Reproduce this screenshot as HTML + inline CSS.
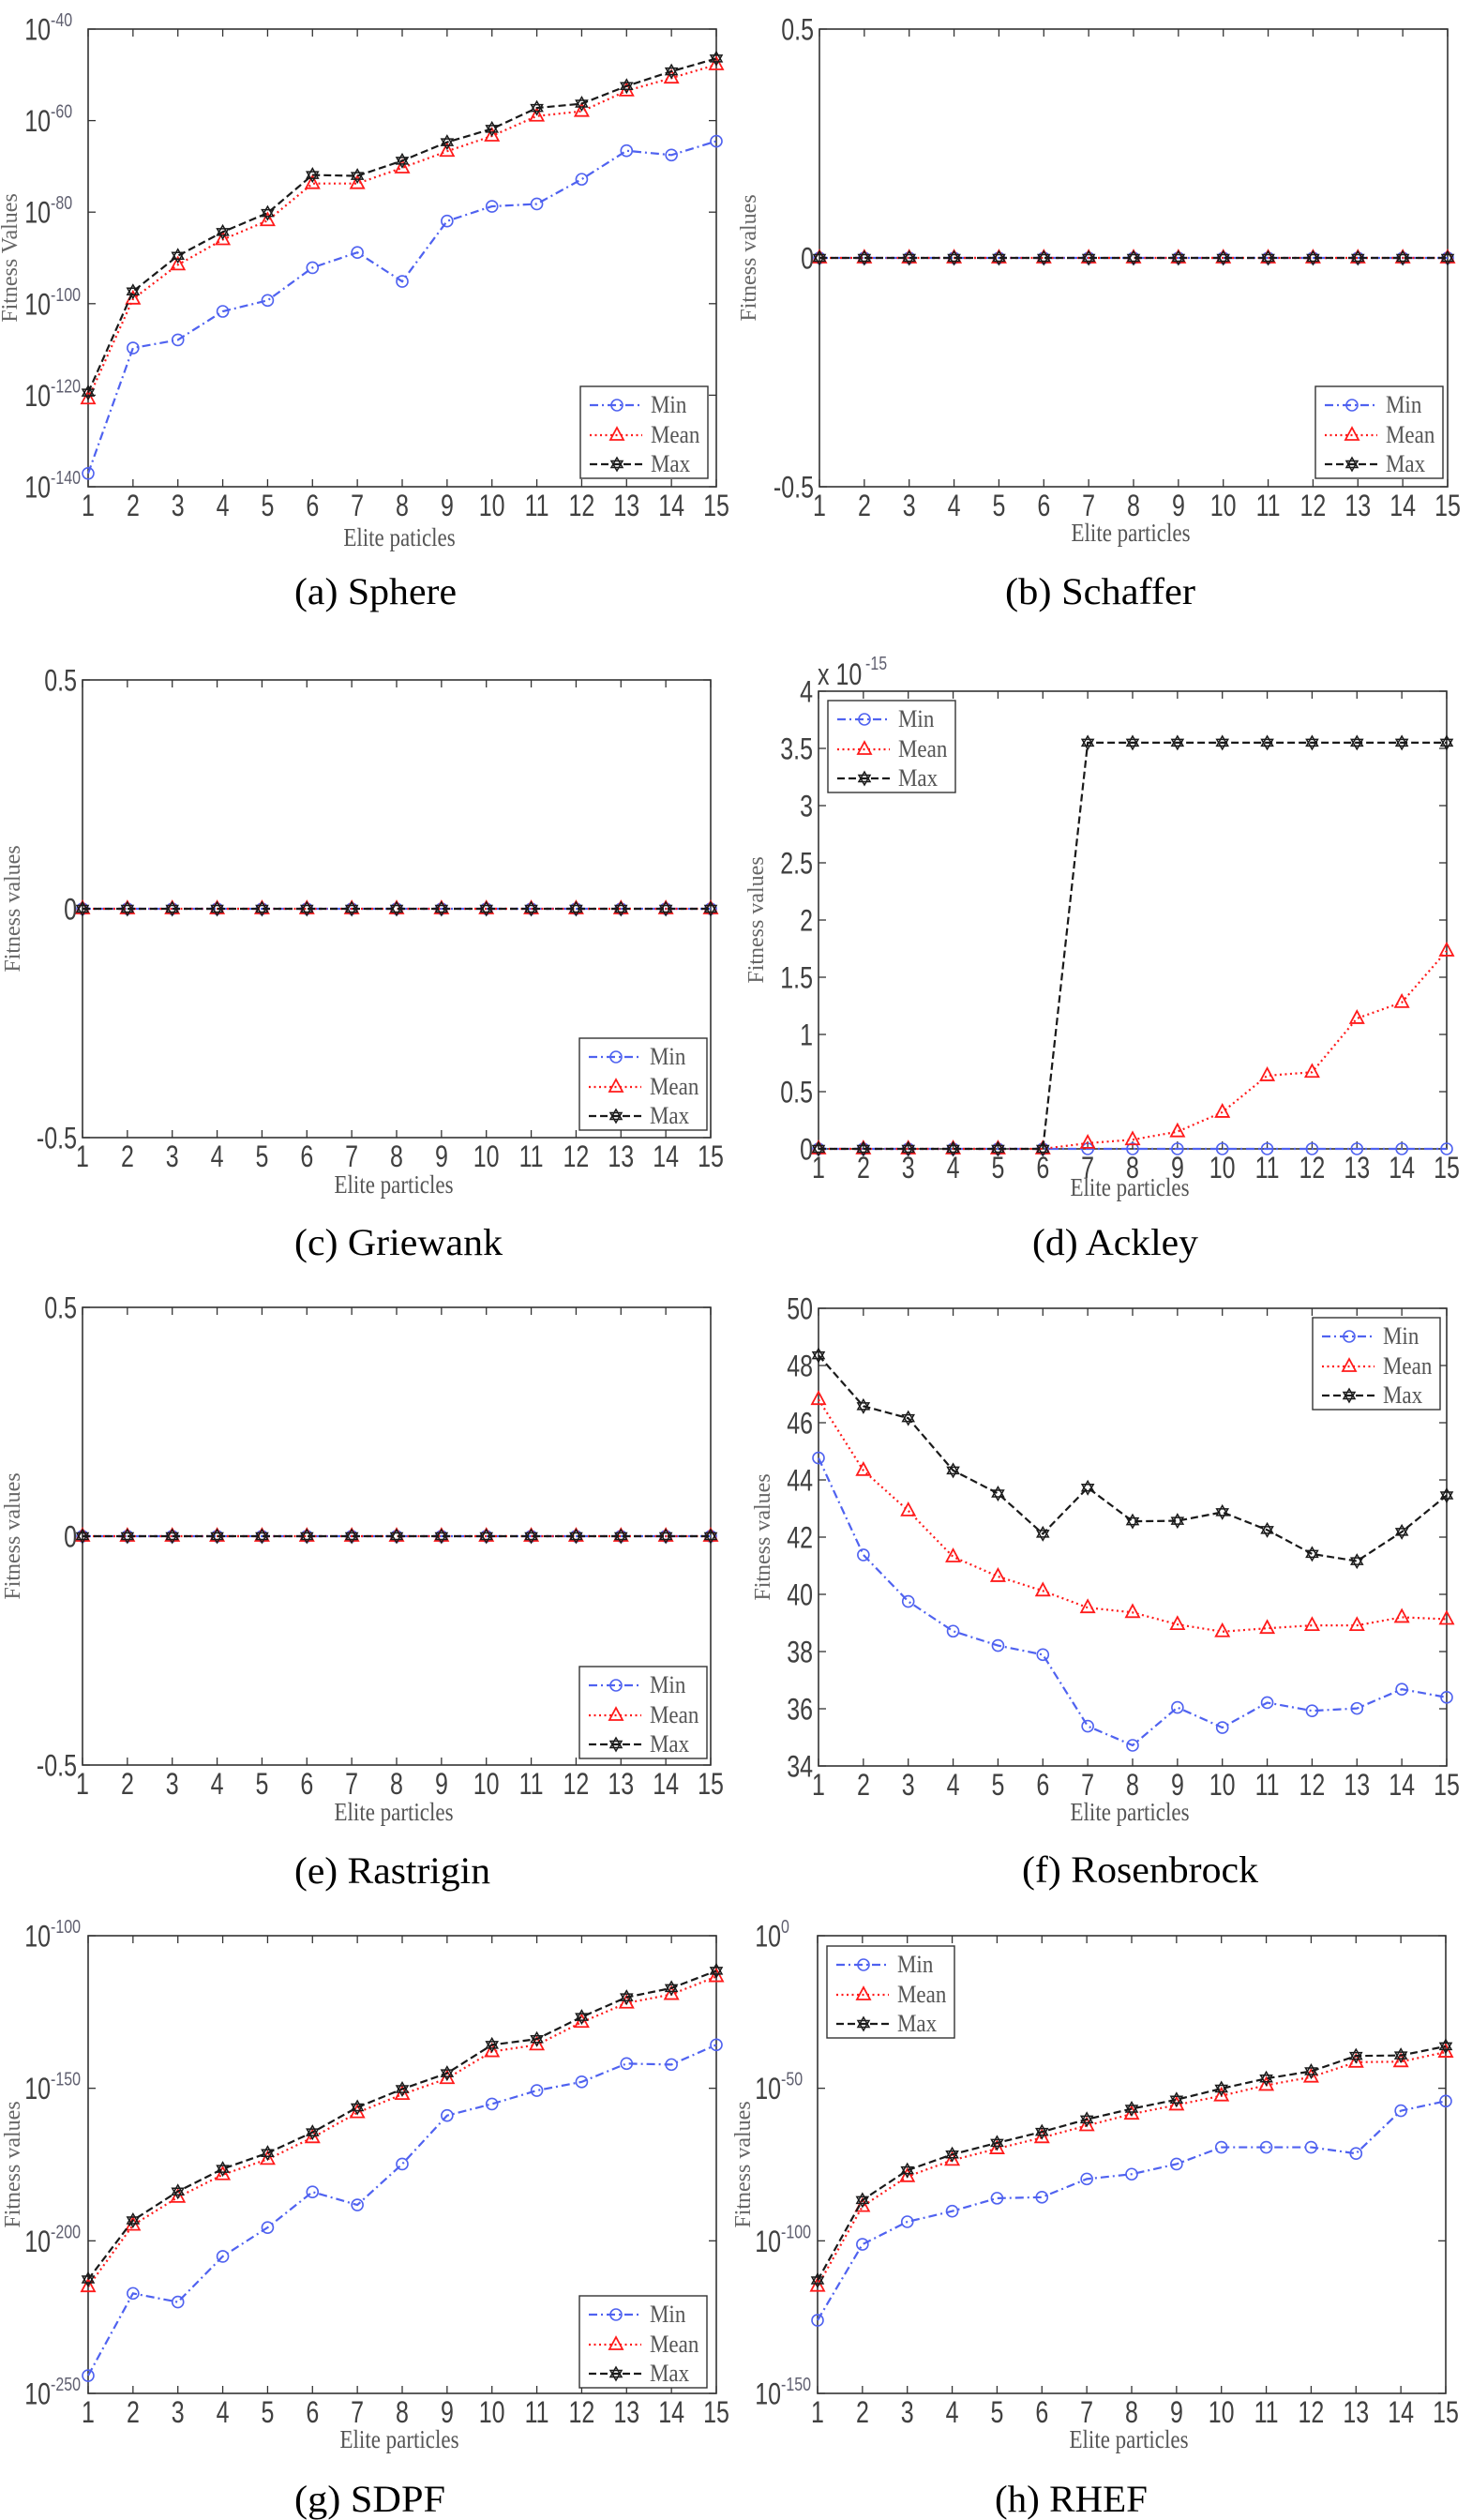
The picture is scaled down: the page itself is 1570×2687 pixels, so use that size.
<!DOCTYPE html>
<html><head><meta charset="utf-8">
<style>
html,body{margin:0;padding:0;background:#fff;}
svg{display:block;}
.tk{font-family:"Liberation Sans",Arial,sans-serif;font-size:25px;fill:#404040;}
.sp{font-family:"Liberation Sans",Arial,sans-serif;font-size:16px;fill:#606070;}
.yl{font-family:"Liberation Serif","Times New Roman",serif;font-size:24px;fill:#666;}
.xl{font-family:"Liberation Serif","Times New Roman",serif;font-size:23px;fill:#555;}
.lg{font-family:"Liberation Serif","Times New Roman",serif;font-size:23px;fill:#555;}
.ti{font-family:"Liberation Serif","Times New Roman",serif;font-size:40px;fill:#000;}
</style></head><body>
<svg id="s" width="1570" height="2687" viewBox="0 0 1570 2687" xmlns="http://www.w3.org/2000/svg">
<rect width="1570" height="2687" fill="#fff"/>

<!-- (a) -->
<g transform="translate(94,31)">
<g id="pa"></g>
<g class="tk" text-anchor="middle" transform="matrix(1,0,0,1.28,0,519)"><text x="0">1</text><text x="47.9">2</text><text x="95.7">3</text><text x="143.6">4</text><text x="191.4">5</text><text x="239.3">6</text><text x="287.1">7</text><text x="335">8</text><text x="382.9">9</text><text x="430.7">10</text><text x="478.6">11</text><text x="526.4">12</text><text x="574.3">13</text><text x="622.1">14</text><text x="670">15</text></g>
<g class="tk" text-anchor="end"><text transform="matrix(1,0,0,1.28,-40,11.5)">10</text><text transform="matrix(1,0,0,1.28,-40,109.1)">10</text><text transform="matrix(1,0,0,1.28,-40,206.7)">10</text><text transform="matrix(1,0,0,1.28,-40,304.3)">10</text><text transform="matrix(1,0,0,1.28,-40,401.9)">10</text><text transform="matrix(1,0,0,1.28,-40,499.5)">10</text></g>
<g class="sp"><text transform="matrix(1,0,0,1.28,-40,-3)">-40</text><text transform="matrix(1,0,0,1.28,-40,94.6)">-60</text><text transform="matrix(1,0,0,1.28,-40,192.2)">-80</text><text transform="matrix(1,0,0,1.28,-40,289.8)">-100</text><text transform="matrix(1,0,0,1.28,-40,387.4)">-120</text><text transform="matrix(1,0,0,1.28,-40,485)">-140</text></g>
<text class="yl" text-anchor="middle" transform="translate(-76,244) rotate(-90)">Fitness Values</text>
<text class="xl" text-anchor="middle" transform="matrix(1,0,0,1.2,332,551)">Elite paticles</text>
<g class="lg" transform="translate(525,381)"><text transform="matrix(1,0,0,1.15,75,28)">Min</text><text transform="matrix(1,0,0,1.15,75,60)">Mean</text><text transform="matrix(1,0,0,1.15,75,91)">Max</text></g>
</g>

<!-- (b) -->
<g transform="translate(874,31)">
<g id="pb"></g>
<g class="tk" text-anchor="middle" transform="matrix(1,0,0,1.28,0,519)"><text x="0">1</text><text x="47.9">2</text><text x="95.7">3</text><text x="143.6">4</text><text x="191.4">5</text><text x="239.3">6</text><text x="287.1">7</text><text x="335">8</text><text x="382.9">9</text><text x="430.7">10</text><text x="478.6">11</text><text x="526.4">12</text><text x="574.3">13</text><text x="622.1">14</text><text x="670">15</text></g>
<g class="tk" text-anchor="end"><text transform="matrix(1,0,0,1.28,-6,11.5)">0.5</text><text transform="matrix(1,0,0,1.28,-6,255.5)">0</text><text transform="matrix(1,0,0,1.28,-6,499.5)">-0.5</text></g>
<text class="yl" text-anchor="middle" transform="translate(-68,244) rotate(-90)">Fitness values</text>
<text class="xl" text-anchor="middle" transform="matrix(1,0,0,1.2,332,546)">Elite particles</text>
<g class="lg" transform="translate(529,381)"><text transform="matrix(1,0,0,1.15,75,28)">Min</text><text transform="matrix(1,0,0,1.15,75,60)">Mean</text><text transform="matrix(1,0,0,1.15,75,91)">Max</text></g>
</g>

<!-- (c) -->
<g transform="translate(88,725)">
<g id="pc"></g>
<g class="tk" text-anchor="middle" transform="matrix(1,0,0,1.28,0,519)"><text x="0">1</text><text x="47.9">2</text><text x="95.7">3</text><text x="143.6">4</text><text x="191.4">5</text><text x="239.3">6</text><text x="287.1">7</text><text x="335">8</text><text x="382.9">9</text><text x="430.7">10</text><text x="478.6">11</text><text x="526.4">12</text><text x="574.3">13</text><text x="622.1">14</text><text x="670">15</text></g>
<g class="tk" text-anchor="end"><text transform="matrix(1,0,0,1.28,-6,11.5)">0.5</text><text transform="matrix(1,0,0,1.28,-6,255.5)">0</text><text transform="matrix(1,0,0,1.28,-6,499.5)">-0.5</text></g>
<text class="yl" text-anchor="middle" transform="translate(-67,244) rotate(-90)">Fitness values</text>
<text class="xl" text-anchor="middle" transform="matrix(1,0,0,1.2,332,547)">Elite particles</text>
<g class="lg" transform="translate(530,382)"><text transform="matrix(1,0,0,1.15,75,28)">Min</text><text transform="matrix(1,0,0,1.15,75,60)">Mean</text><text transform="matrix(1,0,0,1.15,75,91)">Max</text></g>
</g>

<!-- (d) -->
<g transform="translate(873,737)">
<g id="pd"></g>
<g class="tk" text-anchor="middle" transform="matrix(1,0,0,1.28,0,519)"><text x="0">1</text><text x="47.9">2</text><text x="95.7">3</text><text x="143.6">4</text><text x="191.4">5</text><text x="239.3">6</text><text x="287.1">7</text><text x="335">8</text><text x="382.9">9</text><text x="430.7">10</text><text x="478.6">11</text><text x="526.4">12</text><text x="574.3">13</text><text x="622.1">14</text><text x="670">15</text></g>
<g class="tk" text-anchor="end"><text transform="matrix(1,0,0,1.28,-6,11.5)">4</text><text transform="matrix(1,0,0,1.28,-6,72.5)">3.5</text><text transform="matrix(1,0,0,1.28,-6,133.5)">3</text><text transform="matrix(1,0,0,1.28,-6,194.5)">2.5</text><text transform="matrix(1,0,0,1.28,-6,255.5)">2</text><text transform="matrix(1,0,0,1.28,-6,316.5)">1.5</text><text transform="matrix(1,0,0,1.28,-6,377.5)">1</text><text transform="matrix(1,0,0,1.28,-6,438.5)">0.5</text><text transform="matrix(1,0,0,1.28,-6,499.5)">0</text></g>
<text class="tk" transform="matrix(1,0,0,1.28,-1,-7)">x 10</text>
<text class="sp" transform="matrix(1,0,0,1.28,50,-23)">-15</text>
<text class="yl" text-anchor="middle" transform="translate(-59,244) rotate(-90)">Fitness values</text>
<text class="xl" text-anchor="middle" transform="matrix(1,0,0,1.2,332,538)">Elite particles</text>
<g class="lg" transform="translate(10,10)"><text transform="matrix(1,0,0,1.15,75,28)">Min</text><text transform="matrix(1,0,0,1.15,75,60)">Mean</text><text transform="matrix(1,0,0,1.15,75,91)">Max</text></g>
</g>

<!-- (e) -->
<g transform="translate(88,1394)">
<g id="pe"></g>
<g class="tk" text-anchor="middle" transform="matrix(1,0,0,1.28,0,519)"><text x="0">1</text><text x="47.9">2</text><text x="95.7">3</text><text x="143.6">4</text><text x="191.4">5</text><text x="239.3">6</text><text x="287.1">7</text><text x="335">8</text><text x="382.9">9</text><text x="430.7">10</text><text x="478.6">11</text><text x="526.4">12</text><text x="574.3">13</text><text x="622.1">14</text><text x="670">15</text></g>
<g class="tk" text-anchor="end"><text transform="matrix(1,0,0,1.28,-6,11.5)">0.5</text><text transform="matrix(1,0,0,1.28,-6,255.5)">0</text><text transform="matrix(1,0,0,1.28,-6,499.5)">-0.5</text></g>
<text class="yl" text-anchor="middle" transform="translate(-67,244) rotate(-90)">Fitness values</text>
<text class="xl" text-anchor="middle" transform="matrix(1,0,0,1.2,332,547)">Elite particles</text>
<g class="lg" transform="translate(530,383)"><text transform="matrix(1,0,0,1.15,75,28)">Min</text><text transform="matrix(1,0,0,1.15,75,60)">Mean</text><text transform="matrix(1,0,0,1.15,75,91)">Max</text></g>
</g>

<!-- (f) -->
<g transform="translate(873,1395)">
<g id="pf"></g>
<g class="tk" text-anchor="middle" transform="matrix(1,0,0,1.28,0,519)"><text x="0">1</text><text x="47.9">2</text><text x="95.7">3</text><text x="143.6">4</text><text x="191.4">5</text><text x="239.3">6</text><text x="287.1">7</text><text x="335">8</text><text x="382.9">9</text><text x="430.7">10</text><text x="478.6">11</text><text x="526.4">12</text><text x="574.3">13</text><text x="622.1">14</text><text x="670">15</text></g>
<g class="tk" text-anchor="end"><text transform="matrix(1,0,0,1.28,-6,11.5)">50</text><text transform="matrix(1,0,0,1.28,-6,72.5)">48</text><text transform="matrix(1,0,0,1.28,-6,133.5)">46</text><text transform="matrix(1,0,0,1.28,-6,194.5)">44</text><text transform="matrix(1,0,0,1.28,-6,255.5)">42</text><text transform="matrix(1,0,0,1.28,-6,316.5)">40</text><text transform="matrix(1,0,0,1.28,-6,377.5)">38</text><text transform="matrix(1,0,0,1.28,-6,438.5)">36</text><text transform="matrix(1,0,0,1.28,-6,499.5)">34</text></g>
<text class="yl" text-anchor="middle" transform="translate(-52,244) rotate(-90)">Fitness values</text>
<text class="xl" text-anchor="middle" transform="matrix(1,0,0,1.2,332,546)">Elite particles</text>
<g class="lg" transform="translate(527,10)"><text transform="matrix(1,0,0,1.15,75,28)">Min</text><text transform="matrix(1,0,0,1.15,75,60)">Mean</text><text transform="matrix(1,0,0,1.15,75,91)">Max</text></g>
</g>

<!-- (g) -->
<g transform="translate(94,2064)">
<g id="pg"></g>
<g class="tk" text-anchor="middle" transform="matrix(1,0,0,1.28,0,519)"><text x="0">1</text><text x="47.9">2</text><text x="95.7">3</text><text x="143.6">4</text><text x="191.4">5</text><text x="239.3">6</text><text x="287.1">7</text><text x="335">8</text><text x="382.9">9</text><text x="430.7">10</text><text x="478.6">11</text><text x="526.4">12</text><text x="574.3">13</text><text x="622.1">14</text><text x="670">15</text></g>
<g class="tk" text-anchor="end"><text transform="matrix(1,0,0,1.28,-40,11.5)">10</text><text transform="matrix(1,0,0,1.28,-40,174.2)">10</text><text transform="matrix(1,0,0,1.28,-40,336.8)">10</text><text transform="matrix(1,0,0,1.28,-40,499.5)">10</text></g>
<g class="sp"><text transform="matrix(1,0,0,1.28,-40,-3)">-100</text><text transform="matrix(1,0,0,1.28,-40,159.7)">-150</text><text transform="matrix(1,0,0,1.28,-40,322.3)">-200</text><text transform="matrix(1,0,0,1.28,-40,485)">-250</text></g>
<text class="yl" text-anchor="middle" transform="translate(-73,244) rotate(-90)">Fitness values</text>
<text class="xl" text-anchor="middle" transform="matrix(1,0,0,1.2,332,546)">Elite particles</text>
<g class="lg" transform="translate(524,384)"><text transform="matrix(1,0,0,1.15,75,28)">Min</text><text transform="matrix(1,0,0,1.15,75,60)">Mean</text><text transform="matrix(1,0,0,1.15,75,91)">Max</text></g>
</g>

<!-- (h) -->
<g transform="translate(872,2064)">
<g id="ph"></g>
<g class="tk" text-anchor="middle" transform="matrix(1,0,0,1.28,0,519)"><text x="0">1</text><text x="47.9">2</text><text x="95.7">3</text><text x="143.6">4</text><text x="191.4">5</text><text x="239.3">6</text><text x="287.1">7</text><text x="335">8</text><text x="382.9">9</text><text x="430.7">10</text><text x="478.6">11</text><text x="526.4">12</text><text x="574.3">13</text><text x="622.1">14</text><text x="670">15</text></g>
<g class="tk" text-anchor="end"><text transform="matrix(1,0,0,1.28,-39,11.5)">10</text><text transform="matrix(1,0,0,1.28,-39,174.2)">10</text><text transform="matrix(1,0,0,1.28,-39,336.8)">10</text><text transform="matrix(1,0,0,1.28,-39,499.5)">10</text></g>
<g class="sp"><text transform="matrix(1,0,0,1.28,-39,-3)">0</text><text transform="matrix(1,0,0,1.28,-39,159.7)">-50</text><text transform="matrix(1,0,0,1.28,-39,322.3)">-100</text><text transform="matrix(1,0,0,1.28,-39,485)">-150</text></g>
<text class="yl" text-anchor="middle" transform="translate(-72,244) rotate(-90)">Fitness values</text>
<text class="xl" text-anchor="middle" transform="matrix(1,0,0,1.2,332,546)">Elite particles</text>
<g class="lg" transform="translate(10,11)"><text transform="matrix(1,0,0,1.15,75,28)">Min</text><text transform="matrix(1,0,0,1.15,75,60)">Mean</text><text transform="matrix(1,0,0,1.15,75,91)">Max</text></g>
</g>

<!-- titles -->
<g font-family="Liberation Serif, Times New Roman, serif" font-size="40" fill="#000">
<text x="314" y="644" textLength="173" lengthAdjust="spacingAndGlyphs">(a) Sphere</text>
<text x="1072" y="644" textLength="203" lengthAdjust="spacingAndGlyphs">(b) Schaffer</text>
<text x="314" y="1338" textLength="222" lengthAdjust="spacingAndGlyphs">(c) Griewank</text>
<text x="1101" y="1338" textLength="177" lengthAdjust="spacingAndGlyphs">(d) Ackley</text>
<text x="314" y="2008" textLength="209" lengthAdjust="spacingAndGlyphs">(e) Rastrigin</text>
<text x="1090" y="2007" textLength="252" lengthAdjust="spacingAndGlyphs">(f) Rosenbrock</text>
<text x="314" y="2678" textLength="161" lengthAdjust="spacingAndGlyphs">(g) SDPF</text>
<text x="1061" y="2678" textLength="163" lengthAdjust="spacingAndGlyphs">(h) RHEF</text>
</g>
</svg>
<script>
(function(){
var NS="http://www.w3.org/2000/svg",W=670,H=488;
function el(p,t,a){var e=document.createElementNS(NS,t);for(var k in a)e.setAttribute(k,a[k]);p.appendChild(e);return e;}
var ST=[
 {c:"#4f62f0",d:"9,4,2,4",m:"o"},
 {c:"#ff1a1a",d:"2,3.5",m:"t"},
 {c:"#1a1a1a",d:"8,4",m:"h"}];
function mk(g,type,x,y,c){
 if(type=="o")el(g,"circle",{cx:x,cy:y,r:6,fill:"none",stroke:c,"stroke-width":1.6});
 else if(type=="t")el(g,"polygon",{points:x+","+(y-8)+" "+(x-7)+","+(y+5)+" "+(x+7)+","+(y+5),fill:"none",stroke:c,"stroke-width":1.8});
 else{el(g,"polygon",{points:x+","+(y-7)+" "+(x-6)+","+(y+3.5)+" "+(x+6)+","+(y+3.5),fill:"none",stroke:c,"stroke-width":1.5});
      el(g,"polygon",{points:x+","+(y+7)+" "+(x-6)+","+(y-3.5)+" "+(x+6)+","+(y-3.5),fill:"none",stroke:c,"stroke-width":1.5});}
}
function draw(id,ser,yt,lg){
 var g=document.getElementById(id);
 el(g,"rect",{x:0,y:0,width:W,height:H,fill:"none",stroke:"#333","stroke-width":1.6});
 for(var i=0;i<15;i++){var x=i*W/14;
  el(g,"line",{x1:x,y1:H,x2:x,y2:H-8,stroke:"#333","stroke-width":1.3});
  el(g,"line",{x1:x,y1:0,x2:x,y2:8,stroke:"#333","stroke-width":1.3});}
 yt.forEach(function(y){
  el(g,"line",{x1:0,y1:y,x2:8,y2:y,stroke:"#333","stroke-width":1.3});
  el(g,"line",{x1:W-8,y1:y,x2:W,y2:y,stroke:"#333","stroke-width":1.3});});
 ser.forEach(function(s,k){
  var st=ST[k],pts=s.map(function(y,i){return (i*W/14)+","+y;}).join(" ");
  el(g,"polyline",{points:pts,fill:"none",stroke:st.c,"stroke-width":2.2,"stroke-dasharray":st.d});
  s.forEach(function(y,i){mk(g,st.m,i*W/14,y,st.c);});
 });
 var lx=lg[0],ly=lg[1];
 el(g,"rect",{x:lx,y:ly,width:136,height:98,fill:"#fff",stroke:"#333","stroke-width":1.4});
 [20,52,83].forEach(function(r,k){var st=ST[k];
  el(g,"line",{x1:lx+10,y1:ly+r,x2:lx+66,y2:ly+r,stroke:st.c,"stroke-width":2.2,"stroke-dasharray":st.d});
  mk(g,st.m,lx+39,ly+r,st.c);});
}
function px(a,t,b){return a.map(function(p){return (p-t)/(b-t)*H;});}
function rng(n,step){var r=[];for(var i=0;i<=n;i++)r.push(i*step);return r;}
var mid=[];for(var i=0;i<15;i++){mid.push(H/2);}
draw("pa",[
 px([995,731,714,654,631,562,530,591,464,433,428,376,316,325,296],60,1023),
 px([838,628,556,503,463,385,385,352,317,285,243,233,190,163,135],60,1023),
 px([825,612,537,487,447,367,369,337,298,270,226,217,180,149,122],60,1023)],
 rng(5,H/5),[525,381]);
draw("pb",[mid,mid,mid],[0,H/2,H],[529,381]);
draw("pc",[mid,mid,mid],[0,H/2,H],[530,382]);
var dm=[0,0,0,0,0,0,0.05,0.08,0.15,0.32,0.64,0.67,1.14,1.28,1.73].map(function(v){return H-v/4*H;});
var dx=[0,0,0,0,0,0,3.55,3.55,3.55,3.55,3.55,3.55,3.55,3.55,3.55].map(function(v){return H-v/4*H;});
var d0=[];for(i=0;i<15;i++)d0.push(H);
draw("pd",[d0,dm,dx],rng(8,H/8),[10,10]);
draw("pe",[mid,mid,mid],[0,H/2,H],[530,383]);
draw("pf",[
 px([498,700,797,859,889,908,1057,1097,1018,1060,1008,1025,1020,980,997],186,1140),
 px([376,524,608,704,745,775,810,820,845,860,853,847,847,830,834],186,1140),
 px([284,390,415,524,572,656,560,630,629,611,648,698,713,652,576],186,1140)],
 rng(8,H/8),[527,10]);
draw("pg",[
 px([1263,1092,1110,1015,955,881,908,823,722,698,670,652,614,616,575],348,1300),
 px([1078,950,892,845,813,768,716,678,645,589,575,528,488,470,433],348,1300),
 px([1063,940,880,833,800,757,705,667,634,575,563,517,476,457,421],348,1300)],
 rng(3,H/3),[524,384]);
draw("ph",[
 px([1148,990,943,921,894,892,854,844,823,788,788,788,801,712,692],348,1300),
 px([1077,911,849,815,791,768,743,719,700,681,659,642,611,610,590],348,1300),
 px([1065,898,836,803,779,756,730,708,689,666,645,630,598,597,578],348,1300)],
 rng(3,H/3),[10,11]);
})();
</script>
</body></html>
